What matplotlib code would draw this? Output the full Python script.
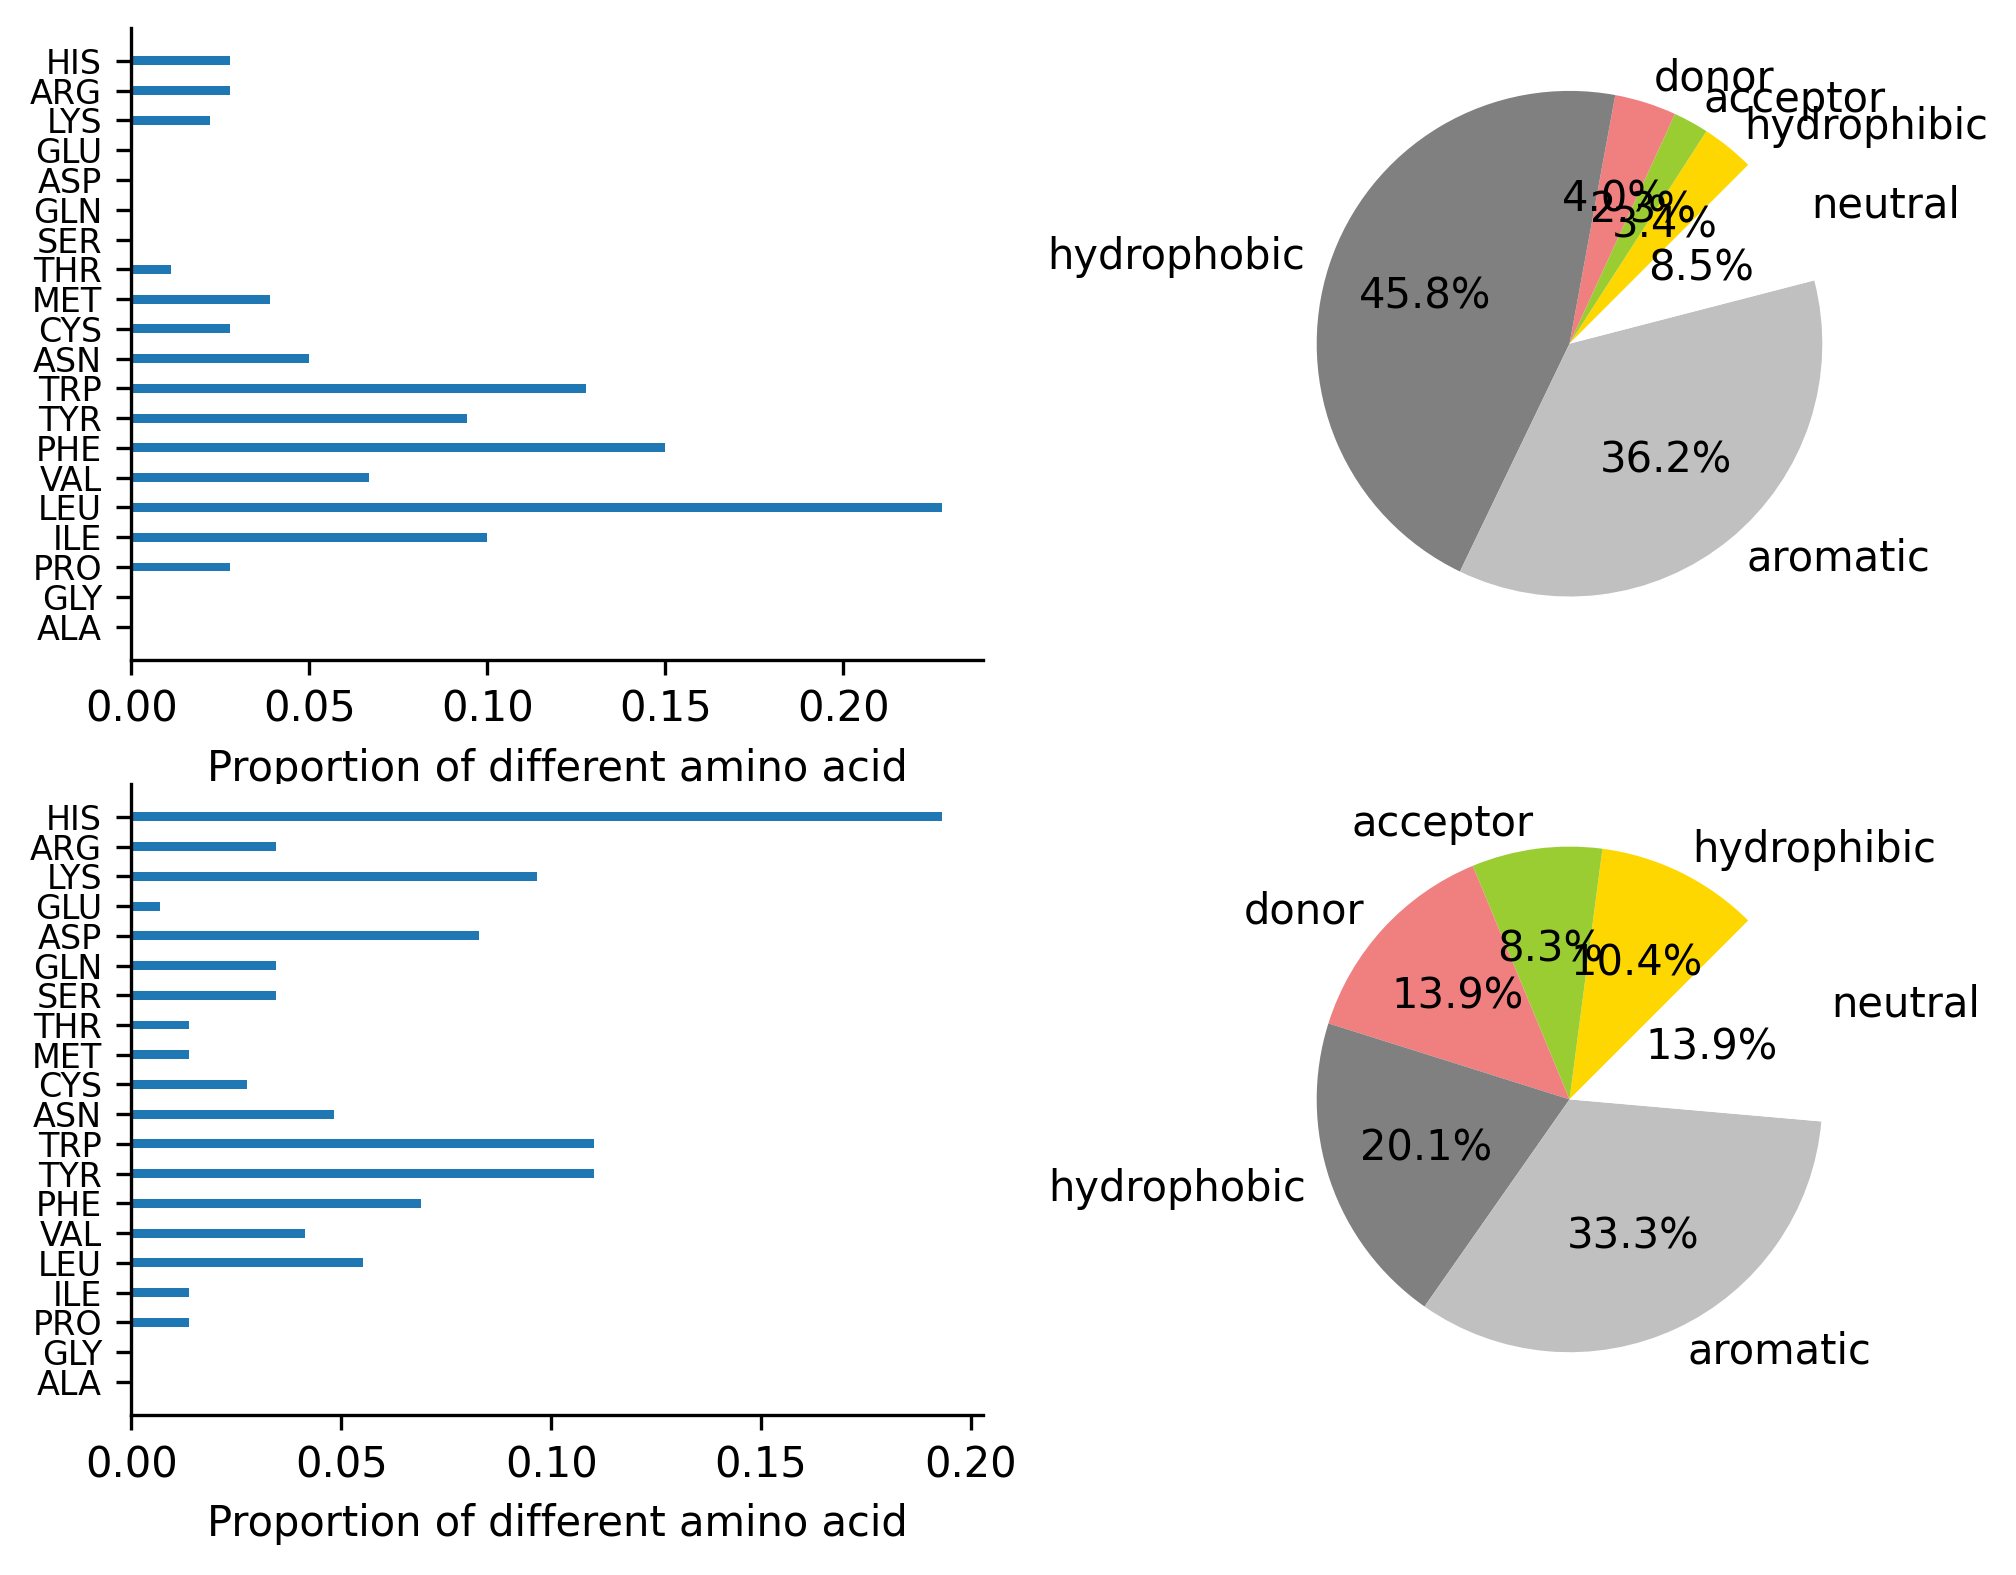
import matplotlib
matplotlib.use("Agg")
import matplotlib.pyplot as plt

amino_acids = ["ALA", "GLY", "PRO", "ILE", "LEU", "VAL", "PHE", "TYR", "TRP", "ASN",
               "CYS", "MET", "THR", "SER", "GLN", "ASP", "GLU", "LYS", "ARG", "HIS"]

top_props = [0.0, 0.0, 0.0278, 0.1000, 0.2278, 0.0667, 0.1500, 0.0944, 0.1278, 0.0500,
             0.0278, 0.0389, 0.0111, 0.0, 0.0, 0.0, 0.0, 0.0222, 0.0278, 0.0278]

bottom_props = [0.0, 0.0, 0.0138, 0.0138, 0.0552, 0.0414, 0.0690, 0.1103, 0.1103, 0.0483,
                0.0276, 0.0138, 0.0138, 0.0345, 0.0345, 0.0828, 0.0069, 0.0966, 0.0345, 0.1931]

pie_labels = ["hydrophibic", "acceptor", "donor", "hydrophobic", "aromatic", "neutral"]
pie_colors = ["gold", "yellowgreen", "lightcoral", "gray", "silver", "white"]
top_pie = [3.39, 2.26, 3.95, 45.76, 36.16, 8.47]
bottom_pie = [10.42, 8.33, 13.89, 20.14, 33.33, 13.89]

W, H = 2016, 1575
fig = plt.figure(figsize=(W / 300, H / 300), dpi=300)

LEFT, RIGHT = 131.3, 982.6

def bar_axes(top_px, bottom_px, values):
    ax = fig.add_axes([LEFT / W, 1 - bottom_px / H, (RIGHT - LEFT) / W, (bottom_px - top_px) / H])
    ax.barh(amino_acids, values, height=0.3, color="#1f77b4")
    ax.spines["top"].set_visible(False)
    ax.spines["right"].set_visible(False)
    ax.tick_params(axis="y", labelsize=8)
    ax.set_xlabel("Proportion of different amino acid")
    return ax

bar_axes(27.7, 659.7, top_props)
bar_axes(783.7, 1415.0, bottom_props)

def pie_axes(cy, values):
    side = 632
    ax = fig.add_axes([(1569.5 - side / 2) / W, 1 - (cy + side / 2) / H, side / W, side / H])
    ax.pie(values, labels=pie_labels, colors=pie_colors, autopct="%1.1f%%", startangle=45)
    return ax

pie_axes(343.7, top_pie)
pie_axes(1099.4, bottom_pie)

fig.savefig("out.png", dpi=300)
